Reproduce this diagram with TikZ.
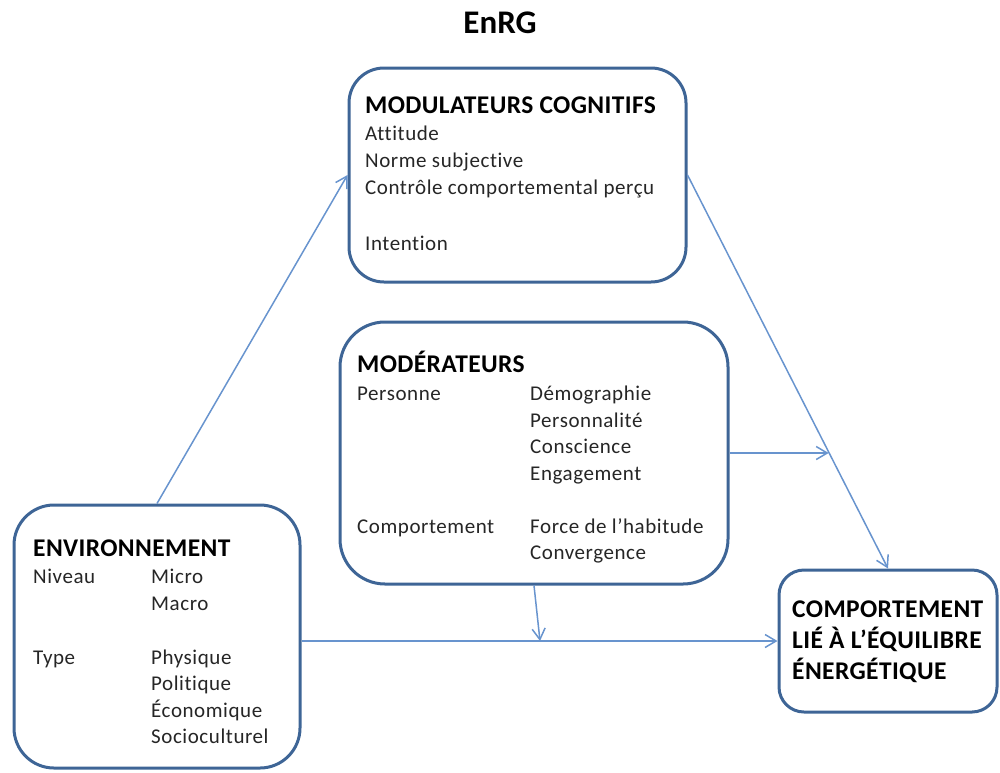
\documentclass[tikz,border=0pt]{standalone}
\usepackage{fontspec}
\setmainfont{Carlito}[Ligatures=NoCommon]
\newfontfamily\bodyfont{Carlito}[Ligatures=NoCommon,LetterSpace=2.7]
\newfontfamily\headfont{Carlito}[Ligatures=NoCommon,LetterSpace=1.5]
\usetikzlibrary{arrows.meta,calc}
\definecolor{boxblue}{RGB}{62,101,150}
\definecolor{arrblue}{RGB}{104,148,206}
\tikzset{
  box/.style={draw=boxblue, line width=3pt, fill=white, inner sep=0pt},
  body/.style={anchor=base west, inner sep=0pt, font=\bodyfont\fontsize{21}{25}\selectfont, text=black!85},
  head/.style={anchor=base west, inner sep=0pt, font=\headfont\fontsize{25.5}{30}\selectfont\bfseries, text=black},
  conn/.style={draw=arrblue, line width=1.5pt, -{Straight Barb[length=11pt,width=13pt,line width=1.5pt]}}
}
\begin{document}
\begin{tikzpicture}[x=1pt,y=-1pt]
\useasboundingbox (0,0) rectangle (1000,772);
% boxes
\node[box, rounded corners=35pt, minimum width=337pt, minimum height=214pt] (mod) at (517.5,175) {};
\node[box, rounded corners=45pt, minimum width=388pt, minimum height=262pt] (moder) at (534,453) {};
\node[box, rounded corners=40pt, minimum width=286pt, minimum height=263pt] (env) at (157,636.5) {};
\node[box, rounded corners=25pt, minimum width=218pt, minimum height=142pt] (comp) at (888,641) {};
% title
\node[anchor=base, inner sep=0pt, font=\fontsize{33}{38}\selectfont\bfseries] (title) at (500,33) {EnRG};
% modulateurs
\node[head] (modh) at (365,113) {MODULATEURS COGNITIFS};
\node[body] (m1) at (365,140) {Attitude};
\node[body] (m2) at (365,167) {Norme subjective};
\node[body] (m3) at (365,194) {Contrôle comportemental perçu};
\node[body] (m4) at (365,250) {Intention};
% moderateurs
\node[head] (moh) at (357,372) {MODÉRATEURS};
\node[body] (p0) at (357,400) {Personne};
\node[body] (p1) at (530,400) {Démographie};
\node[body] (p2) at (530,427) {Personnalité};
\node[body] (p3) at (530,453) {Conscience};
\node[body] (p4) at (530,480) {Engagement};
\node[body] (c0) at (357,533) {Comportement};
\node[body] (c1) at (530,533) {Force de l’habitude};
\node[body] (c2) at (530,559) {Convergence};
% environnement
\node[head] (envh) at (33,556) {ENVIRONNEMENT};
\node[body] (n0) at (33,583) {Niveau};
\node[body] (n1) at (151,583) {Micro};
\node[body] (n2) at (151,610) {Macro};
\node[body] (y0) at (33,664) {Type};
\node[body] (y1) at (151,664) {Physique};
\node[body] (y2) at (151,690) {Politique};
\node[body] (y3) at (151,717) {Économique};
\node[body] (y4) at (151,743) {Socioculturel};
% comportement
\node[head] (k1) at (792,617) {COMPORTEMENT};
\node[head] (k2) at (792,648) {LIÉ À L’ÉQUILIBRE};
\node[head] (k3) at (792,679) {ÉNERGÉTIQUE};
% connectors
\coordinate (j3) at ($(mod.east)!0.704!(comp.north)$);
\coordinate (j4) at (540,641);
\draw[conn] (env.north) -- (mod.west);
\draw[conn] (mod.east) -- (comp.north);
\draw[conn] (moder.east) -- (moder.east -| j3);
\draw[conn] (env.east |- comp.west) -- (comp.west);
\draw[conn] (moder.south) -- (j4);
\end{tikzpicture}
\end{document}
